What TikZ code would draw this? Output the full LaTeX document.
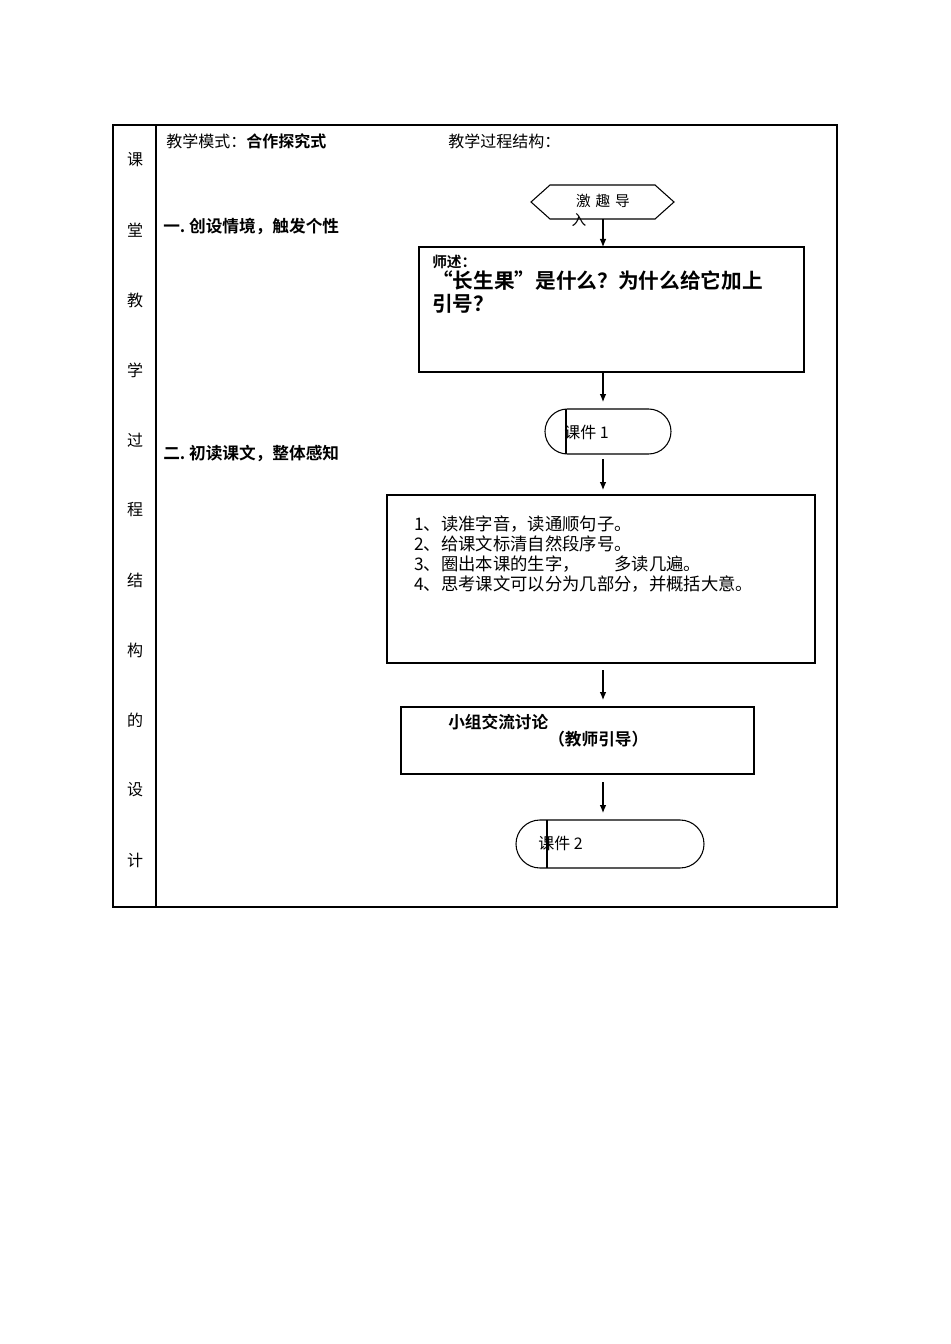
\documentclass[tikz,border=0pt]{standalone}
\usepackage{fontspec}
\setmainfont{Liberation Serif}
\newfontfamily\cjk{Noto Sans CJK SC}
\newfontfamily\cjkb{Noto Sans CJK SC}[UprightFont=* Bold]
\usetikzlibrary{arrows.meta}
\begin{document}
\begin{tikzpicture}[x=0.75pt,y=-0.75pt,
  t/.style={anchor=west,inner sep=0pt,font=\cjk\fontsize{12}{14}\selectfont},
  tb/.style={anchor=west,inner sep=0pt,font=\cjkb\fontsize{12.5}{14}\selectfont},
  box/.style={draw,line width=0.8pt},
  arr/.style={-{Latex[length=6pt,width=5pt]},line width=0.8pt}]
\useasboundingbox (0,0) rectangle (950,1344);
\draw[line width=1.2pt] (113,125) rectangle (837,907);
\draw[line width=0.8pt] (156,125) -- (156,907);
\foreach \c [count=\i from 0] in {课,堂,教,学,过,程,结,构,的,设,计}
  \node[font=\cjk\fontsize{12}{14}\selectfont] (l\i) at (135,160+70*\i) {\c};
\node[t] (m1) at (166,141) {教学模式：{\cjkb 合作探究式}};
\node[t] (m3) at (448,141) {教学过程结构：};
\node[tb] (s1) at (163,227) {一.\ 创设情境，触发个性};
\node[tb] (s2) at (163,453) {二.\ 初读课文，整体感知};
% hexagon
\draw[box] (531,202) -- (550,185) -- (655,185) -- (674,202) -- (655,219) -- (550,219) -- cycle;
\coordinate (hx) at (603,219);
\node[font=\cjk\fontsize{11}{13}\selectfont] (h1) at (603,201) {激\,\,趣\,\,导};
\node[font=\cjk\fontsize{11}{13}\selectfont] (h2) at (579,220) {入};
% box 1
\draw[box] (419,247) rectangle (804,372);
\coordinate (b1t) at (603,247); \coordinate (b1b) at (603,372);
\node[anchor=west,inner sep=0pt,font=\cjkb\fontsize{11}{13}\selectfont] (b1a) at (432,262) {师述：};
\node[anchor=north west,inner sep=0pt,align=left,font=\cjkb\fontsize{15.5}{17.5}\selectfont] (b1b2) at (432,270) {“长生果”是什么？为什么给它加上\\引号？};
\draw[arr] (hx) -- (b1t);
% kj1
\draw[box,rounded corners=16.875pt] (545,409) rectangle (671,454);
\draw[line width=0.8pt] (566,409) -- (566,454);
\coordinate (k1t) at (603,402); \coordinate (k1b) at (603,459);
\node[t] (k1) at (564,432) {课件 1};
\draw[arr] (b1b) -- (k1t);
% box 2
\draw[box] (387,495) rectangle (815,663);
\coordinate (b2t) at (603,490); \coordinate (b2b) at (603,670);
\draw[arr] (k1b) -- (b2t);
\node[anchor=north west,inner sep=0pt,align=left,font=\cjk\fontsize{13}{14.8}\selectfont] (r) at (414,516) {1、读准字音，读通顺句子。\\2、给课文标清自然段序号。\\3、圈出本课的生字，\hspace{2em}多读几遍。\\4、思考课文可以分为几部分，并概括大意。};
% box 3
\draw[box] (401,707) rectangle (754,774);
\coordinate (b3t) at (603,700); \coordinate (b3b) at (603,782);
\draw[arr] (b2b) -- (b3t);
\node[tb] (g1) at (448,722) {小组交流讨论};
\node[tb] (g2) at (548,739) {（教师引导）};
% kj2
\draw[box,rounded corners=18pt] (516,820) rectangle (704,868);
\draw[line width=0.8pt] (547,820) -- (547,868);
\coordinate (k2t) at (603,813);
\node[t] (k2) at (538,843) {课件 2};
\draw[arr] (b3b) -- (k2t);
\end{tikzpicture}
\end{document}
